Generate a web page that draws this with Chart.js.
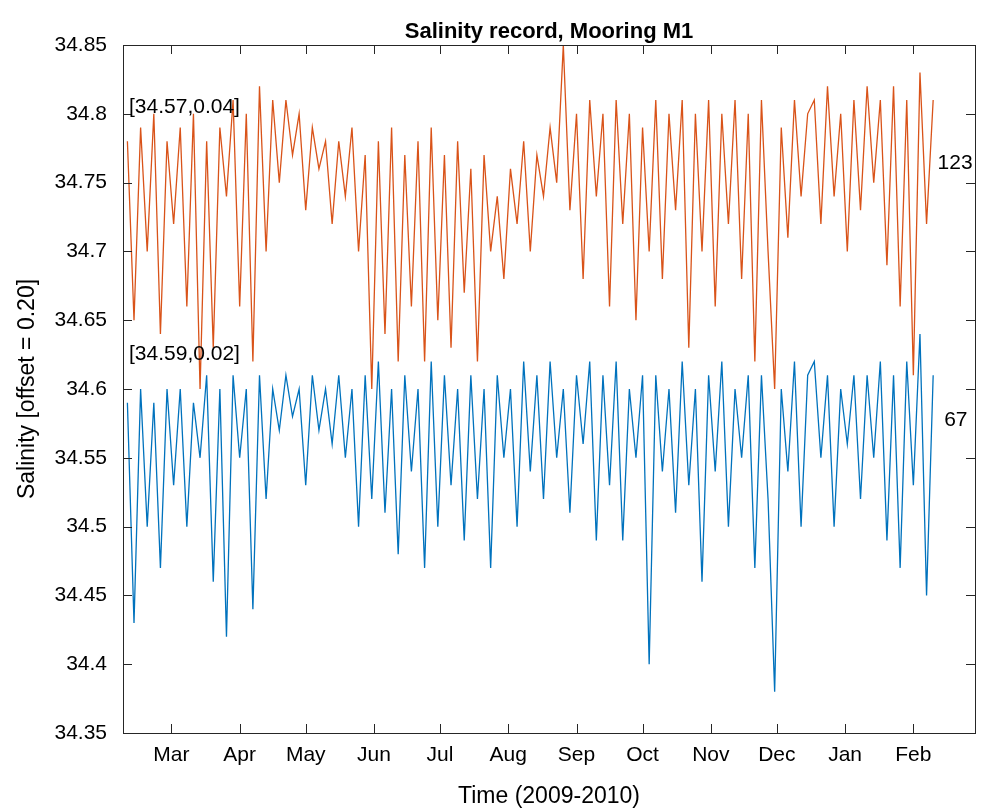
<!DOCTYPE html>
<html>
<head>
<meta charset="utf-8">
<script src="https://cdn.jsdelivr.net/npm/chart.js@4"></script>
<style>
  html, body { margin: 0; padding: 0; background: #fff; }
  #wrap { width: 987px; height: 810px; }
</style>
</head>
<body>
<div id="wrap"><canvas id="salinityChart"></canvas></div>
<script>
// days since 9 Feb 2009, one sample every 3 days
const days = Array.from({ length: 123 }, (_, i) => i * 3);

const salinity123 = [
  34.78,34.65,34.79,34.70,34.80,34.64,34.78,34.72,
  34.79,34.66,34.80,34.60,34.78,34.63,34.79,34.74,
  34.81,34.66,34.80,34.62,34.82,34.70,34.81,34.75,
  34.81,34.77,34.80,34.73,34.79,34.76,34.78,34.72,
  34.78,34.74,34.79,34.70,34.77,34.60,34.78,34.64,
  34.79,34.62,34.77,34.66,34.78,34.62,34.79,34.65,
  34.77,34.63,34.78,34.67,34.76,34.62,34.77,34.70,
  34.74,34.68,34.76,34.72,34.78,34.70,34.77,34.74,
  34.79,34.75,34.85,34.73,34.80,34.68,34.81,34.74,
  34.80,34.66,34.81,34.72,34.80,34.65,34.79,34.70,
  34.81,34.68,34.80,34.73,34.81,34.63,34.80,34.70,
  34.81,34.66,34.80,34.72,34.81,34.68,34.80,34.62,
  34.81,34.70,34.60,34.79,34.71,34.81,34.74,34.80,
  34.81,34.72,34.82,34.74,34.80,34.70,34.81,34.73,
  34.82,34.75,34.81,34.69,34.82,34.66,34.81,34.61,
  34.83,34.72,34.81
];

const salinity67 = [
  34.59,34.43,34.60,34.50,34.59,34.47,34.60,34.53,
  34.60,34.50,34.59,34.55,34.61,34.46,34.60,34.42,
  34.61,34.55,34.60,34.44,34.61,34.52,34.60,34.57,
  34.61,34.58,34.60,34.53,34.61,34.57,34.60,34.56,
  34.61,34.55,34.60,34.50,34.61,34.52,34.62,34.51,
  34.60,34.48,34.61,34.54,34.60,34.47,34.62,34.50,
  34.61,34.53,34.60,34.49,34.61,34.52,34.60,34.47,
  34.61,34.55,34.60,34.50,34.62,34.54,34.61,34.52,
  34.62,34.55,34.60,34.51,34.61,34.56,34.62,34.49,
  34.61,34.53,34.62,34.49,34.60,34.55,34.61,34.40,
  34.61,34.54,34.60,34.51,34.62,34.53,34.60,34.46,
  34.61,34.54,34.62,34.50,34.60,34.55,34.61,34.47,
  34.61,34.52,34.38,34.60,34.54,34.62,34.50,34.61,
  34.62,34.55,34.61,34.50,34.60,34.56,34.61,34.52,
  34.61,34.55,34.62,34.49,34.61,34.47,34.62,34.53,
  34.64,34.45,34.61
];

const monthDays = [20, 51, 81, 112, 142, 173, 204, 234, 265, 295, 326, 357];
const monthLabels = ["Mar","Apr","May","Jun","Jul","Aug","Sep","Oct","Nov","Dec","Jan","Feb"];
const yTicks = [34.35,34.4,34.45,34.5,34.55,34.6,34.65,34.7,34.75,34.8,34.85];

const FONT = "'Liberation Sans', Arial, sans-serif";

const labelsPlugin = {
  id: "matlabBits",
  afterDraw(chart) {
    const { ctx, chartArea: a, scales: { x, y } } = chart;
    ctx.save();
    // box + inward ticks
    ctx.strokeStyle = "#262626";
    ctx.lineWidth = 1;
    ctx.strokeRect(a.left + 0.5, a.top + 0.5, a.right - a.left, a.bottom - a.top);
    ctx.beginPath();
    monthDays.forEach((d) => {
      const px = Math.round(x.getPixelForValue(d)) + 0.5;
      ctx.moveTo(px, a.bottom); ctx.lineTo(px, a.bottom - 9);
      ctx.moveTo(px, a.top); ctx.lineTo(px, a.top + 9);
    });
    yTicks.forEach((v) => {
      const py = Math.round(y.getPixelForValue(v)) + 0.5;
      ctx.moveTo(a.left, py); ctx.lineTo(a.left + 9, py);
      ctx.moveTo(a.right, py); ctx.lineTo(a.right - 9, py);
    });
    ctx.stroke();
    // title
    ctx.fillStyle = "#000";
    ctx.font = "bold 22px " + FONT;
    ctx.textAlign = "center";
    ctx.textBaseline = "bottom";
    ctx.fillText("Salinity record, Mooring M1", (a.left + a.right) / 2, a.top - 2);
    // y axis title
    ctx.save();
    ctx.translate(28, (a.top + a.bottom) / 2);
    ctx.rotate(-Math.PI / 2);
    ctx.textBaseline = "middle";
    ctx.font = "23px " + FONT;
    ctx.fillText("Salinity [offset = 0.20]", 0, 0);
    ctx.restore();
    // annotations
    ctx.font = "21px " + FONT;
    ctx.textAlign = "left";
    ctx.textBaseline = "middle";
    ctx.fillText("[34.57,0.04]", a.left + 6, y.getPixelForValue(34.805));
    ctx.fillText("[34.59,0.02]", a.left + 6, y.getPixelForValue(34.625));
    ctx.fillText("123", x.getPixelForValue(368), y.getPixelForValue(34.764));
    ctx.fillText("67", x.getPixelForValue(371), y.getPixelForValue(34.577));
    ctx.restore();
  }
};

new Chart(document.getElementById("salinityChart"), {
  type: "line",
  data: {
    datasets: [
      {
        label: "123",
        data: days.map((d, i) => ({ x: d, y: salinity123[i] })),
        borderColor: "#D95319",
        borderWidth: 1.3,
        pointRadius: 0,
        tension: 0,
      },
      {
        label: "67",
        data: days.map((d, i) => ({ x: d, y: salinity67[i] })),
        borderColor: "#0072BD",
        borderWidth: 1.3,
        pointRadius: 0,
        tension: 0,
      },
    ],
  },
  options: {
    responsive: true,
    maintainAspectRatio: false,
    animation: false,
    layout: { padding: { top: 45, right: 12, left: 0, bottom: 0 } },
    plugins: { legend: { display: false }, tooltip: { enabled: false } },
    scales: {
      x: {
        type: "linear",
        min: -2,
        max: 385,
        afterBuildTicks: (s) => { s.ticks = monthDays.map((v) => ({ value: v })); },
        afterFit: (s) => { s.height = 77; },
        ticks: {
          autoSkip: false,
          maxRotation: 0,
          color: "#000",
          font: { family: FONT, size: 21 },
          padding: 2,
          callback: (v) => monthLabels[monthDays.indexOf(v)],
        },
        grid: { display: false },
        border: { display: false },
        title: {
          display: true,
          text: "Time (2009-2010)",
          color: "#000",
          font: { family: FONT, size: 23 },
          padding: { top: 0, bottom: 0 },
        },
      },
      y: {
        min: 34.35,
        max: 34.85,
        afterBuildTicks: (s) => { s.ticks = yTicks.map((v) => ({ value: v })); },
        afterFit: (s) => { s.width = 123; },
        ticks: {
          color: "#000",
          font: { family: FONT, size: 21 },
          padding: 8,
          callback: (v) => String(+v.toFixed(2)),
        },
        grid: { display: false },
        border: { display: false },
      },
    },
  },
  plugins: [labelsPlugin],
});
</script>
</body>
</html>
